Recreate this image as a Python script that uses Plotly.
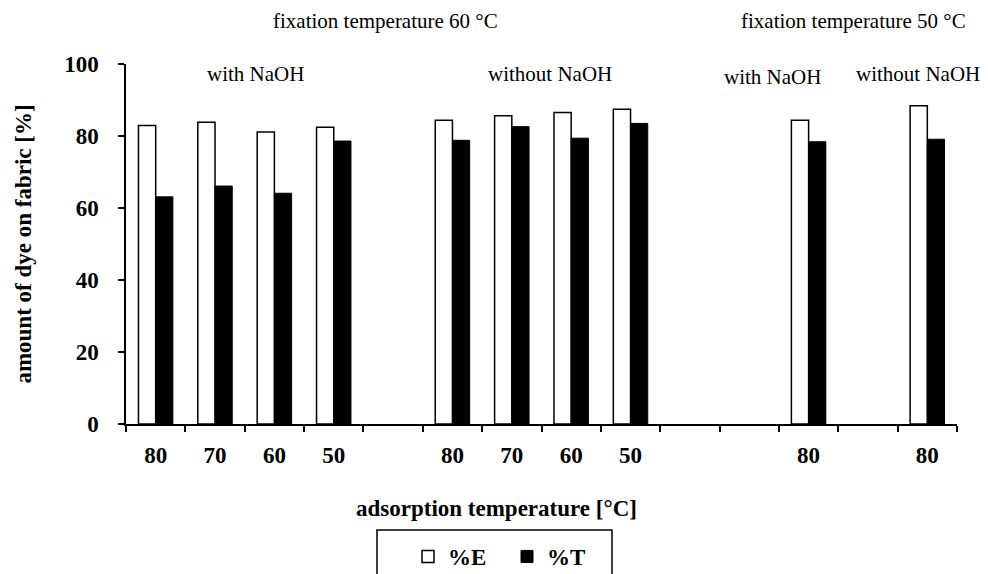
import plotly.graph_objects as go

categories = ["80", "70", "60", "50", "", "80", "70", "60", "50", "", "", "80", "", "80"]
pct_E = [82.9, 83.8, 81.1, 82.4, None, 84.4, 85.6, 86.5, 87.4, None, None, 84.4, None, 88.4]
pct_T = [63.1, 66.1, 64.1, 78.6, None, 78.8, 82.6, 79.4, 83.5, None, None, 78.4, None, 79.1]
y_ticks = [0, 20, 40, 60, 80, 100]

x_pos = list(range(len(categories)))
boundaries = [i - 0.5 for i in range(len(categories) + 1)]

SERIF = "Liberation Serif, Times New Roman, serif"
L, R, T, B = 126, 957, 64, 424  # plot area in pixels

fig = go.Figure()
fig.add_trace(go.Bar(x=x_pos, y=pct_E, name="<b>%E</b>",
                     marker=dict(color="white", line=dict(color="black", width=1.5))))
fig.add_trace(go.Bar(x=x_pos, y=pct_T, name="<b>%T</b>",
                     marker=dict(color="black", line=dict(color="black", width=1))))

def px_to_x(px):
    return (px - L) / ((R - L) / 14) - 0.5

def px_to_paper(px):
    return (px - L) / (R - L)

def py_to_paper(py):
    return (B - py) / (B - T)

annots = [
    ("fixation temperature 60 °C", 385, 21, 21, False),
    ("fixation temperature 50 °C", 853, 21, 21, False),
    ("with NaOH", 255, 74, 21, False),
    ("without NaOH", 550, 74, 21, False),
    ("with NaOH", 772, 77, 21, False),
    ("without NaOH", 918, 74, 21, False),
    ("adsorption temperature [°C]", 496, 508, 23, True),
]
for text, px, py, size, bold in annots:
    fig.add_annotation(x=px_to_x(px), xref="x", y=py_to_paper(py), yref="paper",
                       text=f"<b>{text}</b>" if bold else text, showarrow=False,
                       xanchor="center", yanchor="middle",
                       font=dict(family=SERIF, size=size, color="black"))

# legend frame
fig.add_shape(type="rect", xref="paper", yref="paper",
              x0=px_to_paper(377), x1=px_to_paper(612),
              y0=py_to_paper(530), y1=py_to_paper(590),
              line=dict(color="black", width=1.5), fillcolor="rgba(0,0,0,0)")

fig.update_layout(
    width=988, height=574,
    margin=dict(l=L, r=988 - R, t=T, b=574 - B, autoexpand=False),
    paper_bgcolor="white", plot_bgcolor="white",
    barmode="group", bargap=0.42, bargroupgap=0,
    font=dict(family=SERIF, color="black"),
    showlegend=True,
    legend=dict(orientation="h", x=px_to_paper(408), xref="paper",
                xanchor="left", y=py_to_paper(535), yanchor="top",
                borderwidth=0, bgcolor="rgba(0,0,0,0)",
                font=dict(family=SERIF, size=23, color="black"),
                entrywidth=54, itemwidth=30),
)

fig.update_xaxes(
    range=[-0.5, len(categories) - 0.5],
    tickmode="array", tickvals=x_pos,
    ticktext=[f"<b>{c}</b>" for c in categories],
    ticks="outside", ticklen=10, tickcolor="rgba(0,0,0,0)",
    tickfont=dict(family=SERIF, size=23, color="black"),
    showline=True, linecolor="black", linewidth=1.5,
    showgrid=False, zeroline=False, automargin=False,
    minor=dict(tickmode="array", tickvals=boundaries, ticks="outside",
               ticklen=6, tickcolor="black", tickwidth=1.5, showgrid=False),
)
fig.update_yaxes(
    range=[0, 100], tickmode="array", tickvals=y_ticks,
    ticktext=[f"<b>{v}</b>" for v in y_ticks],
    ticks="outside", ticklen=6, tickcolor="black", tickwidth=1.5,
    ticklabelstandoff=15,
    tickfont=dict(family=SERIF, size=23, color="black"),
    showline=True, linecolor="black", linewidth=1.5,
    showgrid=False, zeroline=False, automargin=False,
    title=dict(text="<b>amount of dye on fabric [%]</b>", standoff=26,
               font=dict(family=SERIF, size=23, color="black")),
)

fig.write_html("out.html", config={"displayModeBar": False},
               post_script="document.body.style.margin='0';document.body.style.overflow='hidden';")
